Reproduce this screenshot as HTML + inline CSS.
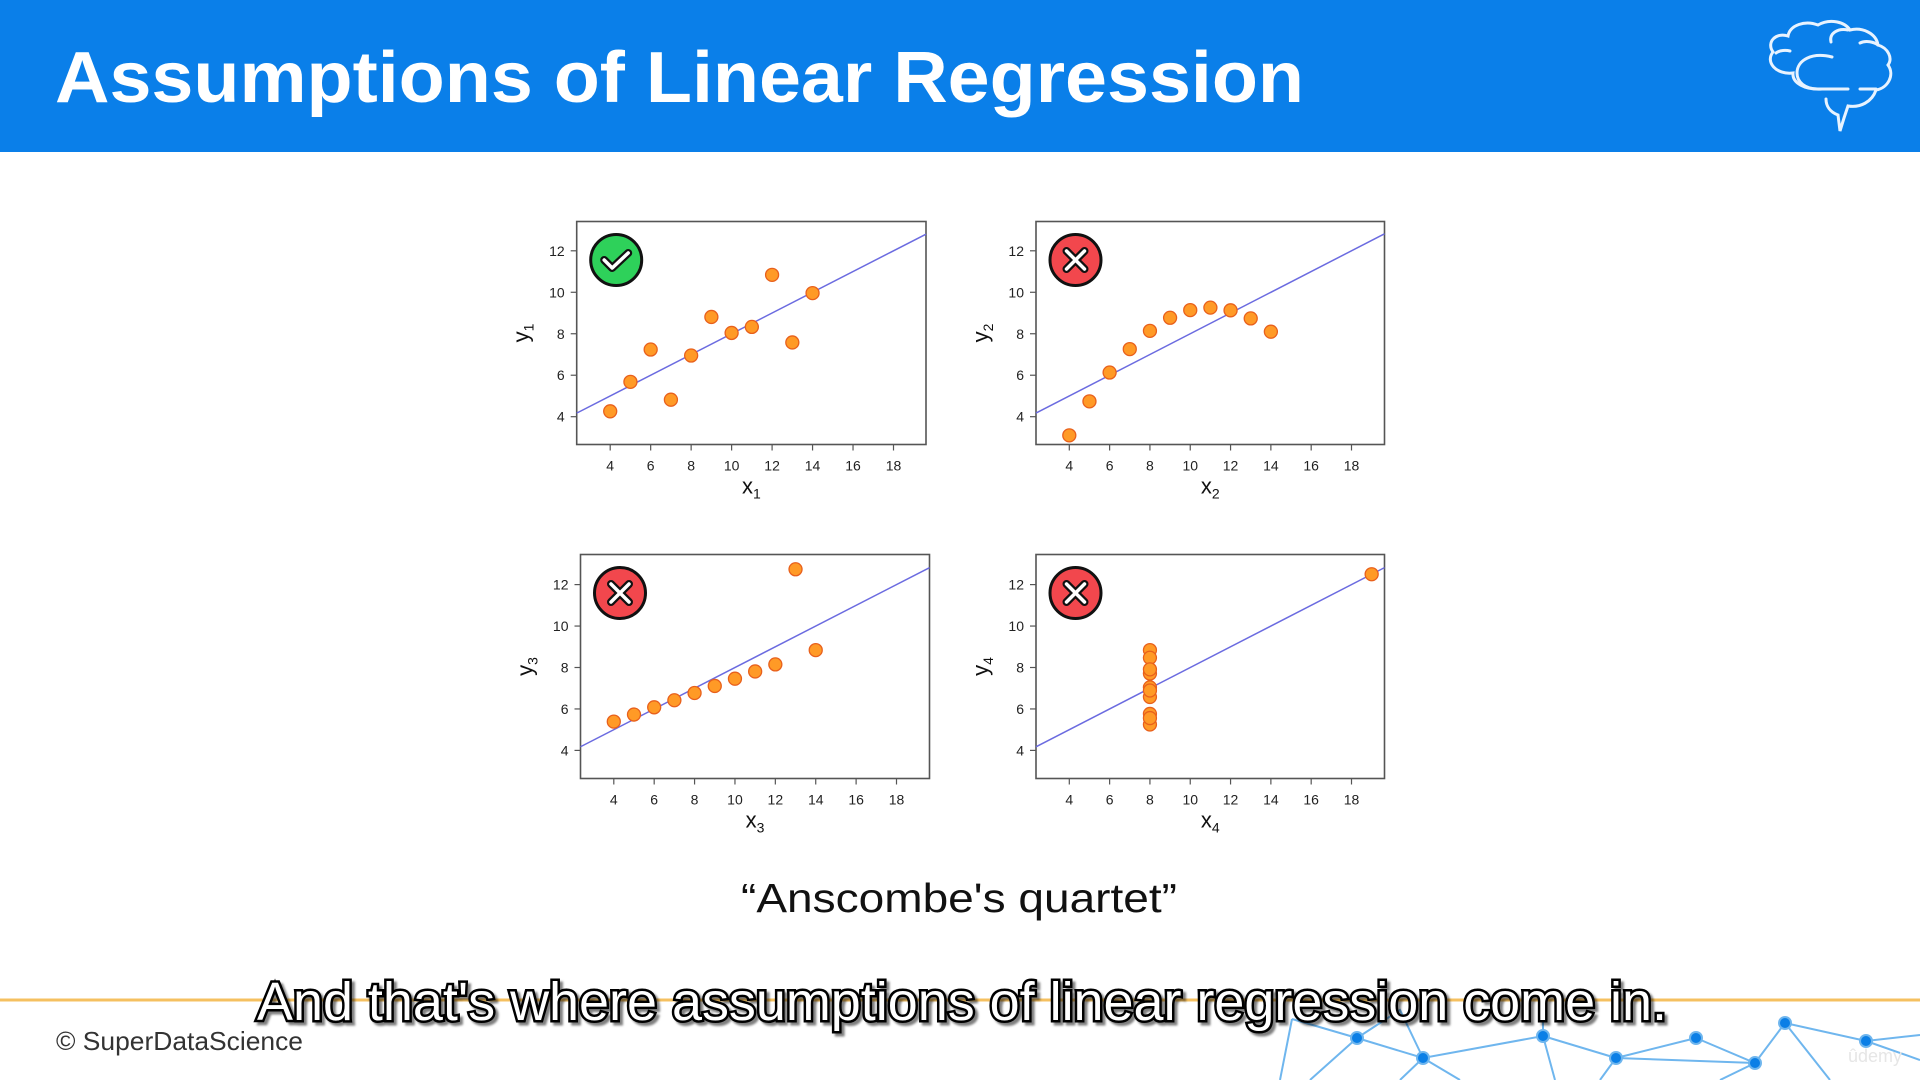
<!DOCTYPE html>
<html><head><meta charset="utf-8"><style>
html,body{margin:0;padding:0;background:#fff;}
svg{display:block;}
</style></head><body>
<svg id="root" width="1920" height="1080" viewBox="0 0 1920 1080" xmlns="http://www.w3.org/2000/svg">
  <rect x="0" y="0" width="1920" height="152" fill="#0a7fe9"/>
  <text x="55" y="102" font-family="'Liberation Sans',sans-serif" font-weight="bold" font-size="72" fill="#fff" textLength="1249" lengthAdjust="spacingAndGlyphs">Assumptions of Linear Regression</text>
  <g fill="none" stroke="#e8f3ff" stroke-width="3" stroke-linecap="round">
    <path d="M1822,89 C1805,90 1792,83 1793,73 C1776,75 1765,62 1773,52 C1766,42 1776,32 1788,36 C1790,25 1805,20 1818,25 C1830,18 1845,22 1850,30 C1862,27 1876,33 1878,45 C1888,48 1893,58 1888,65 C1895,75 1888,88 1876,90 C1872,102 1860,108 1848,106 L1844,118 L1840,131 L1838,115 C1830,112 1826,106 1826,99"/>
    <path d="M1832,57 C1812,52 1797,60 1797,73 C1797,82 1805,89 1818,89 L1848,89"/>
    <path d="M1831,42 C1829,33 1838,28 1848,30"/>
    <path d="M1860,43 C1866,40 1874,42 1878,45"/>
    <path d="M1776,53 C1780,50 1786,50 1790,51"/>
    <path d="M1860,89 L1876,89"/>
  </g>
  <g id="charts"></g>
  <text x="959" y="912" text-anchor="middle" font-family="'Liberation Sans',sans-serif" font-size="41" fill="#111" textLength="436" lengthAdjust="spacingAndGlyphs">“Anscombe's quartet”</text>
  <g stroke="#6fb6ee" stroke-width="2" fill="#0b7fe6">
    <path d="M1292,1019 L1357,1038 L1423,1058 L1543,1036 L1616,1058 L1696,1038 L1755,1063 L1785,1023 L1866,1041 L1920,1035 M1292,1019 L1280,1080 M1357,1038 L1310,1080 M1423,1058 L1400,1080 M1423,1058 L1460,1080 M1543,1036 L1555,1080 M1616,1058 L1600,1080 M1616,1058 L1755,1063 M1696,1038 L1755,1063 M1755,1063 L1720,1080 M1785,1023 L1755,1063 M1785,1023 L1830,1080 M1866,1041 L1920,1060 M1543,1036 L1616,1058 M1357,1038 L1400,1010 L1423,1058 M1543,1036 L1543,1010 M1696,1038 L1616,1058" fill="none"/>
    <circle cx="1357" cy="1038" r="6"/><circle cx="1423" cy="1058" r="6"/><circle cx="1543" cy="1036" r="6"/><circle cx="1616" cy="1058" r="6"/><circle cx="1696" cy="1038" r="6"/><circle cx="1755" cy="1063" r="6"/><circle cx="1785" cy="1023" r="6"/><circle cx="1866" cy="1041" r="6"/>
  </g>
  <text x="1875" y="1062" text-anchor="middle" font-family="'Liberation Sans',sans-serif" font-size="18" fill="#e6e6e6">ûdemy</text>
  <line x1="0" y1="1000" x2="1920" y2="1000" stroke="#f5c060" stroke-width="3"/>
  <text x="56" y="1050" font-family="'Liberation Sans',sans-serif" font-size="26" fill="#333" textLength="247" lengthAdjust="spacingAndGlyphs">© SuperDataScience</text>
  <text x="962" y="1020" text-anchor="middle" font-family="'Liberation Sans',sans-serif" font-size="54" fill="#fff" stroke="#000" stroke-width="5" paint-order="stroke" textLength="1410" lengthAdjust="spacingAndGlyphs" style="filter:drop-shadow(3px 3px 1px rgba(0,0,0,0.5))">And that's where assumptions of linear regression come in.</text>
</svg>
<script>
const xs123 = [10, 8, 13, 9, 11, 14, 6, 4, 12, 7, 5];
const x4 = [8, 8, 8, 8, 8, 8, 8, 19, 8, 8, 8];
const y1 = [8.04, 6.95, 7.58, 8.81, 8.33, 9.96, 7.24, 4.26, 10.84, 4.82, 5.68];
const y2 = [9.14, 8.14, 8.74, 8.77, 9.26, 8.10, 6.13, 3.10, 9.13, 7.26, 4.74];
const y3 = [7.46, 6.77, 12.74, 7.11, 7.81, 8.84, 6.08, 5.39, 8.15, 6.42, 5.73];
const y4 = [6.58, 5.76, 7.71, 8.84, 8.47, 7.04, 5.25, 12.50, 5.56, 7.91, 6.89];
const xTicks = [4, 6, 8, 10, 12, 14, 16, 18];
const yTicks = [4, 6, 8, 10, 12];
const fitIntercept = 3.0;
const fitSlope = 0.5;

const NS = 'http://www.w3.org/2000/svg';
const host = document.getElementById('charts');
function mk(tag, attrs, parent) {
  const e = document.createElementNS(NS, tag);
  for (const k in attrs) e.setAttribute(k, attrs[k]);
  parent.appendChild(e);
  return e;
}
const panels = [
  {xs: xs123, ys: y1, idx: 1, ok: true,  L: 576.7, R: 926, T: 221.5, B: 444.5, x4p: 610.2, x18p: 893.5, y12p: 250.8, y4p: 416.7},
  {xs: xs123, ys: y2, idx: 2, ok: false, L: 1036, R: 1384.5, T: 221.5, B: 444.5, x4p: 1069.3, x18p: 1351.5, y12p: 250.8, y4p: 416.7},
  {xs: xs123, ys: y3, idx: 3, ok: false, L: 580.5, R: 929.5, T: 554.5, B: 778.5, x4p: 613.8, x18p: 896.5, y12p: 584.6, y4p: 750.4},
  {xs: x4, ys: y4, idx: 4, ok: false, L: 1036, R: 1384.5, T: 554.5, B: 778.5, x4p: 1069.3, x18p: 1351.5, y12p: 584.6, y4p: 750.4}
];
panels.forEach(p => {
  const g = mk('g', {}, host);
  
  
  const sx = v => p.x4p + (v - 4) * (p.x18p - p.x4p) / 14;
  const sy = v => p.y4p - (v - 4) * (p.y4p - p.y12p) / 8;
  const ivx = px => 4 + (px - p.x4p) * 14 / (p.x18p - p.x4p);
  const box = mk('rect', {x: p.L, y: p.T, width: p.R - p.L, height: p.B - p.T, fill: '#fff', stroke: '#555', 'stroke-width': 1.6}, g);
  
  
  xTicks.forEach(t => {
    mk('line', {x1: sx(t), x2: sx(t), y1: p.B, y2: p.B + 6, stroke: '#555', 'stroke-width': 1.2}, g);
    const tx = mk('text', {x: sx(t), y: p.B + 26, 'text-anchor': 'middle', 'font-family': 'Liberation Sans, sans-serif', 'font-size': 14, fill: '#222'}, g);
    tx.textContent = t;
    
    
  });
  yTicks.forEach(t => {
    mk('line', {x1: p.L - 6, x2: p.L, y1: sy(t), y2: sy(t), stroke: '#555', 'stroke-width': 1.2}, g);
    const ty = mk('text', {x: p.L - 12, y: sy(t) + 5, 'text-anchor': 'end', 'font-family': 'Liberation Sans, sans-serif', 'font-size': 14, fill: '#222'}, g);
    ty.textContent = t;
    
    
  });
  const xl = mk('text', {x: (p.L + p.R) / 2, y: p.B + 49, 'text-anchor': 'middle', 'font-family': 'Liberation Sans, sans-serif', 'font-size': 22, fill: '#111'}, g);
  xl.innerHTML = 'x<tspan font-size="14" dy="5">' + p.idx + '</tspan>';
  
  
  const yc = (p.T + p.B) / 2, yx = p.L - 48;
  const yl = mk('text', {x: yx, y: yc, 'text-anchor': 'middle', transform: 'rotate(-90 ' + yx + ' ' + yc + ')', 'font-family': 'Liberation Sans, sans-serif', 'font-size': 22, fill: '#111'}, g);
  yl.innerHTML = 'y<tspan font-size="14" dy="5">' + p.idx + '</tspan>';
  
  
  const xa = ivx(p.L), xb = ivx(p.R);
  const fl = mk('line', {x1: p.L, y1: sy(fitIntercept + fitSlope * xa), x2: p.R, y2: sy(fitIntercept + fitSlope * xb), stroke: '#6b6be0', 'stroke-width': 1.5}, g);
  
  
  p.xs.forEach((xv, i) => {
    const c = mk('circle', {cx: sx(xv), cy: sy(p.ys[i]), r: 6.5, fill: '#ff9a26', stroke: '#e8601c', 'stroke-width': 1.3}, g);
    
    
  });
  const cx = p.L + 39.5, cy = p.T + 38.5;
  const ic = mk('g', {}, g);
  
  
  mk('circle', {cx: cx, cy: cy, r: 25.5, fill: p.ok ? '#2ed15a' : '#f2474d', stroke: '#111', 'stroke-width': 3}, ic);
  if (p.ok) {
    mk('path', {d: 'M' + (cx - 12) + ',' + cy + ' l8,8 l16,-15', fill: 'none', stroke: '#111', 'stroke-width': 8, 'stroke-linecap': 'round', 'stroke-linejoin': 'round'}, ic);
    mk('path', {d: 'M' + (cx - 12) + ',' + cy + ' l8,8 l16,-15', fill: 'none', stroke: '#fff', 'stroke-width': 3.5, 'stroke-linecap': 'round', 'stroke-linejoin': 'round'}, ic);
  } else {
    const d = 'M' + (cx - 9) + ',' + (cy - 9) + ' l18,18 M' + (cx + 9) + ',' + (cy - 9) + ' l-18,18';
    mk('path', {d: d, stroke: '#111', 'stroke-width': 8, 'stroke-linecap': 'round'}, ic);
    mk('path', {d: d, stroke: '#fff', 'stroke-width': 3.5, 'stroke-linecap': 'round'}, ic);
  }
});
</script>
</body></html>
